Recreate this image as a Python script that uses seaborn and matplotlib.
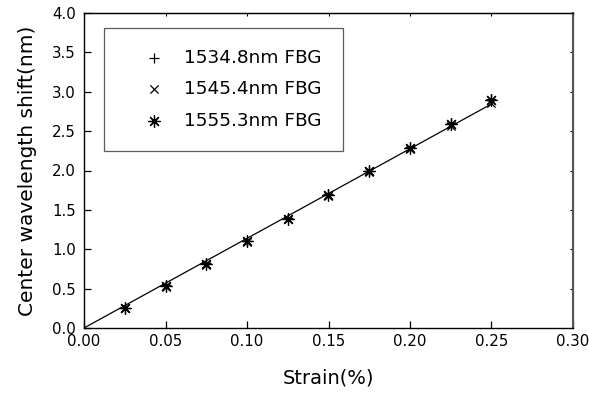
import numpy as np
import pandas as pd
import seaborn as sns
import matplotlib.pyplot as plt
from matplotlib.ticker import FormatStrFormatter

strain = [0.025, 0.05, 0.075, 0.10, 0.125, 0.15, 0.175, 0.20, 0.225, 0.25]
shift_1534 = [0.26, 0.54, 0.82, 1.11, 1.40, 1.70, 1.99, 2.30, 2.60, 2.91]
shift_1545 = [0.25, 0.52, 0.80, 1.09, 1.38, 1.67, 1.98, 2.27, 2.56, 2.86]
shift_1555 = [0.26, 0.53, 0.81, 1.10, 1.39, 1.69, 1.99, 2.29, 2.59, 2.89]
labels = ['1534.8nm FBG', '1545.4nm FBG', '1555.3nm FBG']
markers = ['+', 'x', (8, 2, 0)]
sizes = [50, 35, 70]

sns.set_style('ticks')
plt.rcParams['font.family'] = ['DejaVu Sans']
plt.rcParams.update({'text.color': 'black', 'axes.labelcolor': 'black',
                     'xtick.color': 'black', 'ytick.color': 'black'})

fig = plt.figure(figsize=(5.89, 3.94), dpi=100)
ax = fig.add_axes([84 / 589, 1 - 328 / 394, 489 / 589, 315 / 394])

for lab, ys, mk, sz in zip(labels, [shift_1534, shift_1545, shift_1555], markers, sizes):
    df = pd.DataFrame({'strain': strain, 'shift': ys})
    sns.scatterplot(data=df, x='strain', y='shift', marker=mk, s=sz, color='black',
                    linewidth=0.9, label=lab, ax=ax, zorder=3)

# linear fit through the origin
x = np.array(strain)
y = np.mean([shift_1534, shift_1545, shift_1555], axis=0)
k = np.sum(x * y) / np.sum(x * x)
fit = pd.DataFrame({'strain': np.r_[0.0, x], 'shift': k * np.r_[0.0, x]})
sns.lineplot(data=fit, x='strain', y='shift', color='black', linewidth=0.9, ax=ax, zorder=2)

ax.set_xlim(0, 0.30)
ax.set_ylim(0, 4.0)
ax.set_xticks(np.arange(0, 0.301, 0.05))
ax.set_yticks(np.arange(0, 4.01, 0.5))
ax.xaxis.set_major_formatter(FormatStrFormatter('%.2f'))
ax.yaxis.set_major_formatter(FormatStrFormatter('%.1f'))
ax.tick_params(direction='in', length=5, width=0.9, labelsize=10.8, colors='black')
ax.tick_params(axis='x', pad=4)
ax.tick_params(axis='y', pad=6)

top = ax.secondary_xaxis('top')
top.set_xticks(np.arange(0, 0.301, 0.05))
top.tick_params(direction='in', length=2, labeltop=False)
right = ax.secondary_yaxis('right')
right.set_yticks(np.arange(0, 4.01, 0.5))
right.tick_params(direction='in', length=2, labelright=False)

for sp in ax.spines.values():
    sp.set_visible(True)
    sp.set_linewidth(1.0)
    sp.set_color('black')
ax.spines['right'].set_color('#555555')
ax.spines['right'].set_linewidth(1.5)

ax.set_xlabel('Strain(%)', fontsize=14, labelpad=14)
ax.set_ylabel('Center wavelength shift(nm)', fontsize=14.5, labelpad=11)

leg = ax.legend(loc='upper left', bbox_to_anchor=(0.041, 0.953), frameon=True, fancybox=False,
                edgecolor='#333333', fontsize=13.3, labelspacing=0.72, handletextpad=0.1,
                borderpad=1.15, borderaxespad=0, handlelength=3.1, markerscale=1.0)
leg.get_frame().set_linewidth(0.9)

fig.savefig('out.png', dpi=100)
